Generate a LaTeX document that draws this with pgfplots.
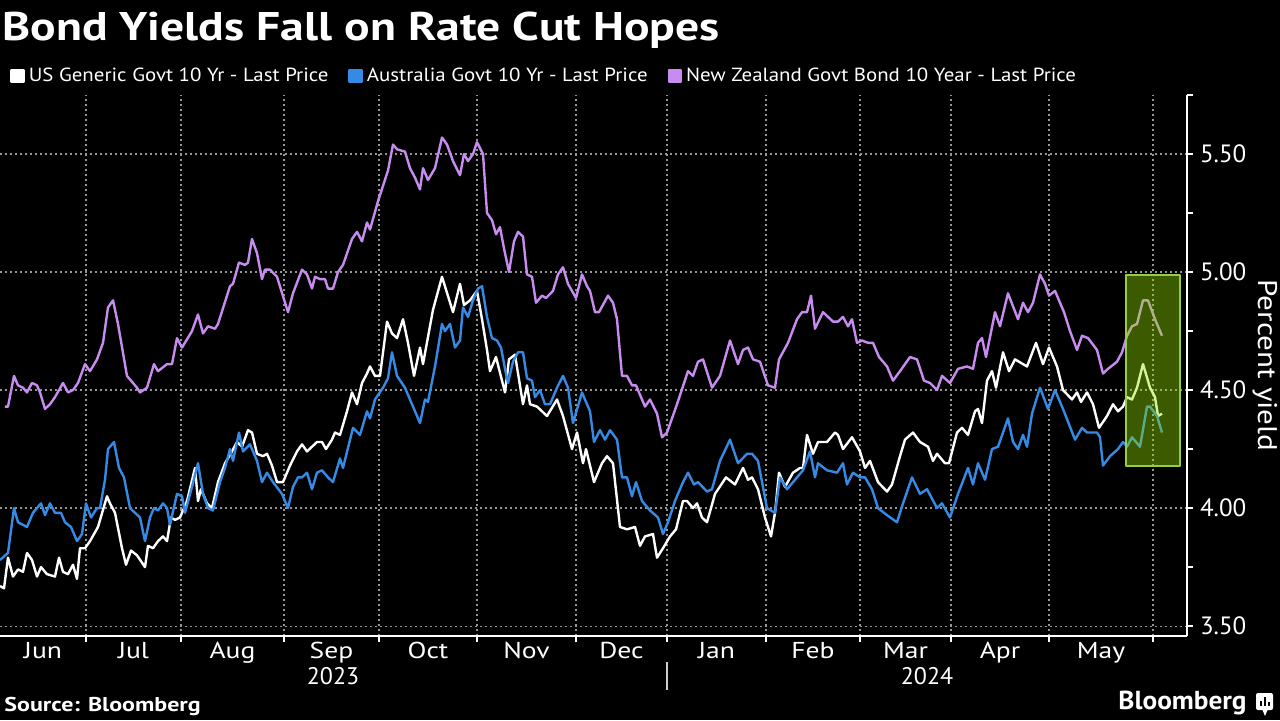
\documentclass[border=0pt]{standalone}
\usepackage{fontspec}
\setmainfont{PT Sans}
\usepackage{graphicx}
\usepackage{pgfplots}
\pgfplotsset{compat=1.18}
\definecolor{usw}{RGB}{255,255,255}
\definecolor{aub}{RGB}{52,138,228}
\definecolor{nzp}{RGB}{200,140,240}
\definecolor{hl}{RGB}{150,225,0}
\definecolor{hlb}{RGB}{150,205,70}
\definecolor{gridc}{RGB}{150,150,150}
\newcommand\wx[2]{\scalebox{#1}[1]{#2}}
\begin{document}
\begin{tikzpicture}
\fill[black] (0,0) rectangle (640pt,-360pt);
\useasboundingbox (0,0) rectangle (640pt,-360pt);
\begin{axis}[
  at={(0pt,-318pt)}, anchor=south west,
  scale only axis, width=593.5pt, height=270.5pt,
  xmin=0, xmax=1187, ymin=3.458, ymax=5.750,
  axis x line=bottom, axis y line=right,
  axis line style={draw=white, line width=0.8pt, -},
  tick align=outside,
  major tick length=3pt, minor tick length=3pt,
  tick style={white, line width=0.8pt},
  major x tick style={draw=none},
  xtick={43,133.5,232.5,331.5,428,526.5,621.5,716.5,813,905.5,1000,1101},
  xticklabels={\wx{1.2}{Jun},\wx{1.2}{Jul},\wx{1.2}{Aug},\wx{1.2}{Sep},\wx{1.2}{Oct},\wx{1.2}{Nov},\wx{1.2}{Dec},\wx{1.2}{Jan},\wx{1.2}{Feb},\wx{1.2}{Mar},\wx{1.2}{Apr},\wx{1.2}{May}},
  minor xtick={86,181,284,379,477,576,667,766,860,951,1049,1153},
  ytick={3.5,4,4.5,5,5.5},
  minor ytick={3.75,4.25,4.75,5.25,5.75},
  ticklabel style={white},
  yticklabel style={font=\fontsize{12.5pt}{14pt}\selectfont, /pgf/number format/.cd, fixed, fixed zerofill, precision=2, assume math mode=true},
  xticklabel style={font=\fontsize{11.5pt}{13pt}\selectfont, inner sep=0pt},
  xminorgrids=true, ymajorgrids=true,
  grid style={gridc, line width=0.6pt, dash pattern=on 1pt off 1.5pt},
  minor grid style={gridc, line width=0.6pt, dash pattern=on 1pt off 1.5pt},
  ylabel={\wx{1.15}{Percent yield}},
  ylabel style={white, font=\fontsize{13.5pt}{15pt}\selectfont, at={(axis description cs:1.0657,0.5)}, anchor=center, rotate=180},
  legend style={at={(axis description cs:0.0084,1.035)}, anchor=west, draw=none, fill=none,
    text=white, font=\fontsize{9.5pt}{11pt}\selectfont, inner sep=0pt,
    /tikz/every even column/.append style={column sep=8pt}},
  legend columns=3, legend cell align=left,
  legend image code/.code={\fill[#1] (0pt,-3pt) rectangle (6pt,3pt);},
  line join=round,
]
\addplot[usw, line width=1.2pt] coordinates {(0,3.67)(4,3.66)(8,3.79)(13,3.71)(18,3.74)(23,3.73)(27,3.81)(32,3.78)(37,3.71)(41,3.75)(47,3.72)(55,3.71)(59,3.79)(63,3.73)(68,3.72)(73,3.76)(77,3.70)(80,3.83)(85,3.83)(90,3.86)(98,3.92)(107,4.05)(110,4.02)(115,3.98)(122,3.83)(126,3.76)(131,3.82)(137,3.80)(145,3.75)(148,3.84)(153,3.83)(158,3.86)(163,3.88)(167,3.86)(171,3.96)(175,3.95)(180,3.96)(187,4.03)(195,4.17)(198,4.03)(201,4.08)(207,4.02)(212,4.00)(218,4.11)(225,4.19)(232,4.24)(237,4.28)(242,4.26)(248,4.33)(252,4.32)(257,4.23)(263,4.22)(267,4.23)(272,4.18)(277,4.11)(283,4.11)(290,4.18)(297,4.24)(302,4.27)(307,4.24)(312,4.26)(317,4.28)(322,4.28)(326,4.25)(332,4.29)(335,4.32)(340,4.31)(347,4.41)(352,4.49)(357,4.44)(362,4.53)(367,4.57)(370,4.60)(375,4.56)(380,4.56)(387,4.79)(392,4.74)(397,4.72)(403,4.80)(408,4.70)(414,4.56)(420,4.68)(423,4.61)(433,4.84)(442,4.98)(453,4.83)(460,4.95)(464,4.86)(470,4.88)(477,4.92)(482,4.80)(487,4.67)(490,4.58)(496,4.64)(505,4.49)(509,4.63)(515,4.65)(523,4.44)(527,4.52)(530,4.44)(537,4.43)(547,4.39)(557,4.46)(563,4.39)(572,4.25)(577,4.32)(583,4.19)(586,4.25)(594,4.11)(602,4.19)(607,4.22)(613,4.19)(620,3.92)(627,3.91)(635,3.92)(640,3.84)(645,3.88)(653,3.89)(657,3.79)(663,3.83)(670,3.88)(676,3.91)(683,4.03)(687,4.03)(693,4.00)(697,4.02)(702,3.96)(707,3.94)(715,4.06)(726,4.13)(735,4.10)(743,4.17)(748,4.12)(752,4.13)(758,4.08)(765,3.96)(771,3.88)(775,3.98)(779,4.15)(785,4.09)(793,4.15)(800,4.17)(803,4.17)(807,4.31)(813,4.23)(818,4.28)(827,4.28)(835,4.32)(838,4.31)(843,4.25)(852,4.30)(860,4.24)(865,4.17)(870,4.20)(878,4.11)(887,4.07)(892,4.10)(900,4.22)(905,4.29)(913,4.32)(920,4.28)(928,4.26)(933,4.20)(937,4.23)(945,4.19)(949,4.19)(957,4.32)(962,4.34)(968,4.31)(975,4.41)(978,4.42)(982,4.36)(987,4.54)(992,4.58)(996,4.51)(1003,4.66)(1009,4.58)(1015,4.63)(1027,4.60)(1036,4.70)(1043,4.61)(1049,4.68)(1057,4.60)(1063,4.50)(1072,4.46)(1077,4.49)(1081,4.45)(1087,4.49)(1093,4.44)(1099,4.34)(1107,4.39)(1113,4.44)(1118,4.41)(1123,4.43)(1127,4.47)(1132,4.46)(1137,4.51)(1143,4.61)(1150,4.51)(1155,4.47)(1158,4.39)(1162,4.40)};
\addlegendentry{\wx{1.10}{US Generic Govt 10 Yr - Last Price}}
\addplot[aub, line width=1.2pt] coordinates {(0,3.78)(8,3.81)(14,4.00)(18,3.94)(27,3.92)(33,3.98)(41,4.02)(45,3.97)(50,4.02)(55,3.98)(61,3.98)(65,3.94)(71,3.92)(77,3.86)(82,3.89)(86,4.02)(91,3.96)(97,4.00)(100,4.00)(105,4.12)(108,4.25)(114,4.28)(119,4.17)(124,4.13)(130,4.00)(135,3.98)(140,3.96)(145,3.86)(150,3.96)(154,4.00)(158,3.99)(163,4.02)(167,4.00)(170,3.93)(177,4.06)(182,4.05)(185,3.98)(192,4.09)(198,4.19)(203,4.06)(208,4.00)(213,3.99)(220,4.11)(225,4.17)(230,4.25)(233,4.20)(239,4.32)(243,4.24)(250,4.27)(257,4.20)(262,4.11)(267,4.15)(273,4.11)(282,4.06)(288,4.00)(293,4.09)(298,4.13)(302,4.13)(307,4.15)(312,4.08)(317,4.15)(322,4.16)(328,4.13)(333,4.11)(340,4.21)(343,4.17)(353,4.34)(360,4.31)(367,4.41)(370,4.38)(375,4.46)(383,4.51)(388,4.55)(392,4.66)(397,4.56)(405,4.51)(412,4.44)(420,4.36)(425,4.46)(428,4.45)(435,4.60)(442,4.78)(445,4.75)(450,4.78)(455,4.68)(460,4.71)(463,4.85)(468,4.81)(473,4.88)(478,4.93)(482,4.94)(487,4.81)(492,4.72)(497,4.71)(501,4.68)(505,4.59)(508,4.53)(513,4.62)(518,4.66)(523,4.66)(527,4.55)(532,4.54)(535,4.47)(540,4.50)(545,4.44)(550,4.44)(557,4.51)(563,4.56)(568,4.51)(573,4.36)(582,4.49)(590,4.41)(594,4.28)(600,4.33)(605,4.29)(610,4.33)(617,4.29)(622,4.13)(627,4.13)(632,4.05)(636,4.11)(642,4.03)(650,3.99)(658,3.96)(663,3.89)(668,3.94)(675,4.03)(683,4.11)(688,4.15)(694,4.10)(698,4.11)(707,4.07)(712,4.08)(720,4.20)(730,4.29)(738,4.19)(747,4.23)(752,4.23)(758,4.20)(767,4.00)(775,3.98)(780,4.13)(787,4.08)(793,4.11)(803,4.16)(810,4.24)(815,4.13)(818,4.19)(827,4.16)(837,4.15)(843,4.19)(847,4.10)(853,4.15)(860,4.13)(865,4.13)(872,4.08)(878,4.00)(887,3.97)(897,3.94)(903,4.02)(912,4.13)(920,4.06)(927,4.08)(937,4.00)(942,4.02)(950,3.96)(958,4.06)(968,4.17)(973,4.10)(978,4.19)(985,4.12)(992,4.25)(998,4.26)(1008,4.38)(1013,4.28)(1018,4.25)(1023,4.31)(1027,4.26)(1032,4.40)(1040,4.51)(1048,4.42)(1055,4.50)(1063,4.42)(1075,4.29)(1082,4.34)(1087,4.32)(1097,4.32)(1100,4.30)(1103,4.18)(1110,4.22)(1118,4.25)(1123,4.28)(1127,4.26)(1132,4.30)(1140,4.26)(1147,4.43)(1150,4.43)(1157,4.39)(1162,4.32)};
\addlegendentry{\wx{1.10}{Australia Govt 10 Yr - Last Price}}
\addplot[nzp, line width=1.2pt] coordinates {(5,4.43)(8,4.43)(14,4.56)(18,4.52)(23,4.51)(27,4.49)(32,4.53)(37,4.52)(40,4.49)(45,4.42)(50,4.44)(55,4.47)(63,4.53)(68,4.49)(73,4.50)(78,4.53)(85,4.61)(90,4.58)(97,4.63)(103,4.70)(108,4.85)(113,4.88)(118,4.78)(127,4.56)(137,4.51)(140,4.49)(147,4.51)(154,4.61)(158,4.58)(167,4.61)(172,4.61)(177,4.72)(182,4.68)(192,4.75)(198,4.82)(203,4.74)(208,4.77)(215,4.76)(218,4.78)(230,4.94)(233,4.95)(239,5.04)(245,5.03)(248,5.04)(252,5.14)(257,5.08)(262,4.97)(265,5.01)(270,5.01)(277,4.98)(288,4.83)(293,4.91)(302,5.01)(307,4.99)(312,4.93)(315,4.98)(320,4.97)(325,4.97)(328,4.93)(333,4.93)(338,5.00)(343,5.03)(352,5.14)(357,5.17)(362,5.13)(367,5.21)(370,5.18)(378,5.30)(388,5.43)(393,5.54)(397,5.52)(405,5.51)(410,5.44)(415,5.40)(420,5.35)(423,5.44)(428,5.39)(435,5.44)(442,5.57)(447,5.54)(453,5.47)(460,5.41)(464,5.50)(468,5.47)(473,5.50)(477,5.55)(483,5.50)(487,5.25)(492,5.22)(496,5.16)(500,5.19)(504,5.10)(509,5.00)(514,5.13)(518,5.17)(523,5.15)(527,4.99)(532,4.98)(536,4.87)(542,4.90)(546,4.89)(553,4.92)(558,4.99)(563,5.02)(568,4.95)(576,4.89)(582,4.99)(587,4.94)(590,4.92)(595,4.83)(599,4.83)(608,4.90)(613,4.87)(617,4.80)(622,4.56)(627,4.56)(632,4.52)(636,4.52)(645,4.43)(650,4.46)(657,4.40)(662,4.30)(667,4.32)(677,4.44)(688,4.58)(693,4.56)(698,4.62)(703,4.63)(712,4.51)(720,4.56)(730,4.71)(738,4.61)(743,4.67)(748,4.68)(753,4.63)(760,4.62)(768,4.52)(775,4.51)(779,4.63)(788,4.70)(797,4.80)(802,4.83)(807,4.83)(811,4.90)(815,4.76)(823,4.83)(833,4.79)(838,4.79)(843,4.81)(848,4.77)(852,4.80)(857,4.70)(862,4.71)(868,4.70)(873,4.70)(879,4.64)(887,4.60)(893,4.54)(900,4.58)(910,4.64)(917,4.63)(924,4.54)(930,4.53)(937,4.50)(942,4.56)(950,4.53)(958,4.59)(967,4.60)(973,4.59)(978,4.70)(982,4.72)(986,4.64)(995,4.83)(1000,4.77)(1008,4.91)(1018,4.80)(1023,4.87)(1028,4.83)(1033,4.87)(1040,4.99)(1045,4.95)(1049,4.90)(1055,4.92)(1064,4.83)(1070,4.75)(1077,4.67)(1082,4.73)(1088,4.72)(1097,4.67)(1103,4.57)(1108,4.59)(1117,4.62)(1122,4.66)(1127,4.73)(1132,4.77)(1137,4.78)(1143,4.88)(1148,4.88)(1155,4.80)(1162,4.73)};
\addlegendentry{\wx{1.10}{New Zealand Govt Bond 10 Year - Last Price}}
\fill[hl, fill opacity=0.4] (axis cs:1126,4.987) rectangle (axis cs:1180,4.178);
\draw[hlb, line width=0.7pt] (axis cs:1126,4.987) rectangle (axis cs:1180,4.178);
\end{axis}
\begin{scope}[x=0.5pt,y=-0.5pt]
\node[anchor=base west, inner sep=0pt, text=white, font=\fontsize{20pt}{24pt}\selectfont\bfseries] at (2,40) {\wx{1.19}{Bond Yields Fall on Rate Cut Hopes}};
\node[text=white, font=\fontsize{12pt}{14pt}\selectfont] at (333,676) {2023};
\node[text=white, font=\fontsize{12pt}{14pt}\selectfont] at (927,676) {2024};
\draw[white!80!black, line width=0.6pt] (667,662) -- (667,690);
\node[anchor=west, inner sep=0pt, text=white, font=\fontsize{10pt}{12pt}\selectfont\bfseries] at (4,706) {\wx{1.2}{Source: Bloomberg}};
\node[anchor=east, inner sep=0pt, text=white, font=\fontsize{13pt}{15pt}\selectfont\bfseries] at (1247,703) {\wx{1.05}{Bloomberg}};
\fill[white, rounded corners=1pt] (1256,693) rectangle (1273,710);
\fill[white] (1262,709) -- (1268,709) -- (1265,716) -- cycle;
\fill[black] (1259.5,706) rectangle (1261.5,701);
\fill[black] (1263.5,706) rectangle (1265.5,697);
\fill[black] (1267.5,706) rectangle (1269.5,702);
\end{scope}
\end{tikzpicture}
\end{document}
